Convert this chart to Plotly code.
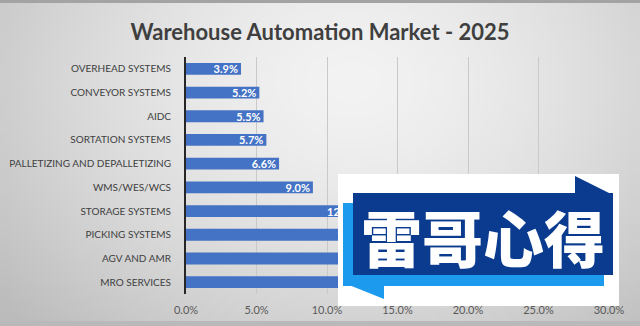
import base64
import math
import struct
import zlib

import plotly.graph_objects as go

# ---- data -------------------------------------------------------------
categories = [
    "OVERHEAD SYSTEMS",
    "CONVEYOR SYSTEMS",
    "AIDC",
    "SORTATION SYSTEMS",
    "PALLETIZING AND DEPALLETIZING",
    "WMS/WES/WCS",
    "STORAGE SYSTEMS",
    "PICKING SYSTEMS",
    "AGV AND AMR",
    "MRO SERVICES",
]
shares = [3.9, 5.2, 5.5, 5.7, 6.6, 9.0, 12.4, 13.1, 15.2, 17.4]
x_ticks = [0, 5, 10, 15, 20, 25, 30]
x_tick_labels = ["0.0%", "5.0%", "10.0%", "15.0%", "20.0%", "25.0%", "30.0%"]

W, H = 640, 326
M_L, M_R, M_T, M_B = 186, 31, 57, 32
PW, PH = W - M_L - M_R, H - M_T - M_B


def px(xp):
    return (xp - M_L) / PW


def py(yp):
    return (H - M_B - yp) / PH


def gradient_png(w, h):
    """Soft grey radial backdrop encoded as a PNG data URI."""
    raw = bytearray()
    for j in range(h):
        raw.append(0)
        ny = j / (h - 1)
        for i in range(w):
            nx = i / (w - 1)
            d = math.hypot((nx - 0.55) / 0.6, (ny - 0.25) / 0.9)
            d = min(d, 1.2)
            v = int(max(0, min(255, 243 - 42 * d ** 1.5)))
            raw += bytes((v, v, v))

    def chunk(tag, data):
        c = struct.pack(">I", len(data)) + tag + data
        return c + struct.pack(">I", zlib.crc32(tag + data) & 0xFFFFFFFF)

    png = b"\x89PNG\r\n\x1a\n"
    png += chunk(b"IHDR", struct.pack(">IIBBBBB", w, h, 8, 2, 0, 0, 0))
    png += chunk(b"IDAT", zlib.compress(bytes(raw), 9))
    png += chunk(b"IEND", b"")
    return "data:image/png;base64," + base64.b64encode(png).decode()


fig = go.Figure(
    go.Bar(
        y=categories,
        x=shares,
        orientation="h",
        marker=dict(color="#4472c4", line=dict(width=0)),
        text=[f"{v:.1f}%" for v in shares],
        textposition="inside",
        insidetextanchor="end",
        constraintext="none",
        textfont=dict(family="Lato", size=11, color="white", weight="bold"),
        cliponaxis=False,
    )
)

shapes = [
    # dark strip along the top edge and bottom edge
    dict(type="rect", xref="paper", yref="paper", x0=px(0), x1=px(W),
         y0=py(3), y1=py(-2), fillcolor="#a3a3a3", line_width=0, layer="below"),
    dict(type="rect", xref="paper", yref="paper", x0=px(0), x1=px(W),
         y0=py(H + 2), y1=py(321), fillcolor="#b9b9b9", line_width=0, layer="below"),
    # badge: white card
    dict(type="rect", xref="paper", yref="paper", x0=px(338), x1=px(619),
         y0=py(306), y1=py(174), fillcolor="white", line_width=0),
    # light blue back panel and its tail
    dict(type="rect", xref="paper", yref="paper", x0=px(343), x1=px(604),
         y0=py(286), y1=py(203), fillcolor="#1c9bee", line_width=0),
    dict(type="path", xref="paper", yref="paper",
         path=f"M {px(349)},{py(285)} L {px(384)},{py(299)} L {px(384)},{py(285)} Z",
         fillcolor="#1c9bee", line_width=0),
    # navy front panel and its tail
    dict(type="rect", xref="paper", yref="paper", x0=px(353), x1=px(613),
         y0=py(275), y1=py(193), fillcolor="#0a3b8f", line_width=0),
    dict(type="path", xref="paper", yref="paper",
         path=f"M {px(575)},{py(176)} L {px(613)},{py(195)} L {px(575)},{py(195)} Z",
         fillcolor="#0a3b8f", line_width=0),
]

fig.update_layout(
    width=W,
    height=H,
    margin=dict(l=M_L, r=M_R, t=M_T, b=M_B, autoexpand=False),
    paper_bgcolor="#d8d8d8",
    plot_bgcolor="rgba(0,0,0,0)",
    showlegend=False,
    bargap=0.5,
    title=dict(
        text="Warehouse Automation Market - 2025",
        x=0.5,
        xref="container",
        xanchor="center",
        y=1 - 32 / H,
        yref="container",
        yanchor="middle",
        font=dict(family="Lato", size=22, color="#3f3f3f", weight="bold"),
    ),
    xaxis=dict(
        range=[0, 30],
        tickvals=x_ticks,
        ticktext=x_tick_labels,
        showgrid=True,
        gridcolor="#c9c9c9",
        gridwidth=1,
        zeroline=False,
        showline=False,
        ticks="",
        ticklabelstandoff=8,
        tickfont=dict(family="Lato", size=11, color="#595959"),
        automargin=False,
        fixedrange=True,
    ),
    yaxis=dict(
        categoryorder="array",
        categoryarray=categories,
        autorange="reversed",
        showgrid=False,
        zeroline=False,
        showline=True,
        linecolor="#262626",
        linewidth=2,
        ticks="",
        ticklabelstandoff=11,
        tickfont=dict(family="Lato", size=10, color="#404040"),
        automargin=False,
        fixedrange=True,
    ),
    shapes=shapes,
    images=[
        dict(
            source=gradient_png(160, 82),
            xref="paper",
            yref="paper",
            x=px(0),
            y=py(0),
            sizex=W / PW,
            sizey=H / PH,
            xanchor="left",
            yanchor="top",
            sizing="stretch",
            layer="below",
        )
    ],
    annotations=[
        dict(
            text="雷哥心得",
            xref="paper",
            yref="paper",
            x=px(483),
            y=py(236),
            xanchor="center",
            yanchor="middle",
            showarrow=False,
            font=dict(family="Noto Sans CJK SC", size=61, color="white", weight=900),
        )
    ],
)

fig.write_html("out.html")
